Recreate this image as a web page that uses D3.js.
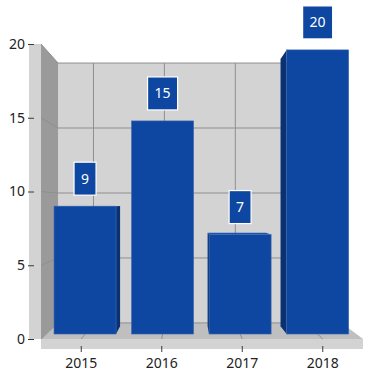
<!DOCTYPE html>
<html>
<head>
<meta charset="utf-8">
<script src="https://cdn.jsdelivr.net/npm/d3@7"></script>
<style>
  body { margin: 0; background: #fff; }
  text { font-family: "Segoe UI", "Noto Sans", "Open Sans", sans-serif; }
</style>
</head>
<body>
<script>
// data
let categories = ["2015", "2016", "2017", "2018"]
let values = [9, 15, 7, 20]
let yTicks = [0, 5, 10, 15, 20]

let width = 368
let height = 374

// front plane of the plot box
let plot = { left: 41, right: 363, top: 44, bottom: 339 }

// simple perspective: z = 0 front plane, z = 1 back wall
let vx = 184, vy = 204, shrink = 0.119
let proj = (x, y, z) => {
    let s = 1 - shrink * z
    return [vx + (x - vx) * s, vy + (y - vy) * s]
}
let poly = pts => pts.map(p => p.join(",")).join(" ")

let x = d3.scaleBand()
    .domain(categories)
    .range([plot.left, plot.right])

let y = d3.scaleLinear()
    .domain([0, 20])
    .range([plot.bottom, plot.top])

const svg = d3.select("body").append("svg")
    .attr("width", width)
    .attr("height", height)

// walls
svg.append("polygon")
    .attr("points", poly([proj(plot.left, plot.top, 1), proj(plot.right, plot.top, 1),
        proj(plot.right, plot.bottom, 1), proj(plot.left, plot.bottom, 1)]))
    .attr("fill", "#d3d3d3")

svg.append("rect")
    .attr("x", 29).attr("y", plot.top)
    .attr("width", plot.left - 29).attr("height", plot.bottom - plot.top)
    .attr("fill", "#d3d3d3")

svg.append("polygon")
    .attr("points", poly([proj(plot.left, plot.top, 0), proj(plot.left, plot.top, 1),
        proj(plot.left, plot.bottom, 1), proj(plot.left, plot.bottom, 0)]))
    .attr("fill", "#9a9a9a")

// floor
svg.append("polygon")
    .attr("points", poly([proj(plot.left, plot.bottom, 0), proj(plot.right, plot.bottom, 0),
        proj(plot.right, plot.bottom, 1), proj(plot.left, plot.bottom, 1)]))
    .attr("fill", "#bfbfbf")

svg.append("rect")
    .attr("x", plot.left).attr("y", plot.bottom)
    .attr("width", plot.right - plot.left).attr("height", 10)
    .attr("fill", "#d3d3d3")

// gridlines
const grid = svg.append("g")
    .attr("stroke", "#8f8f8f")
    .attr("stroke-width", 1)
    .attr("fill", "none")

yTicks.forEach(v => {
    grid.append("polyline")
        .attr("points", poly([proj(plot.left, y(v), 0), proj(plot.left, y(v), 1), proj(plot.right, y(v), 1)]))
})

categories.forEach(c => {
    let cx = x(c) + x.bandwidth() / 2
    grid.append("polyline")
        .attr("points", poly([proj(cx, plot.bottom, 0), proj(cx, plot.bottom, 1), proj(cx, plot.top, 1)]))
})

// bars
let z0 = 0.31, z1 = 0.79
let inset = x.bandwidth() * 0.1
let data = categories.map((c, i) => ({ name: c, value: values[i] }))

const bars = svg.append("g")

data.forEach(d => {
    let x0 = x(d.name) + inset
    let x1 = x(d.name) + x.bandwidth() - inset
    let yt = y(d.value), yb = y(0)
    let g = bars.append("g")
    if (x1 < vx) {
        g.append("polygon")
            .attr("points", poly([proj(x1, yt, z0), proj(x1, yt, z1), proj(x1, yb, z1), proj(x1, yb, z0)]))
            .attr("fill", "#0a3272")
    }
    if (x0 > vx) {
        g.append("polygon")
            .attr("points", poly([proj(x0, yt, z0), proj(x0, yt, z1), proj(x0, yb, z1), proj(x0, yb, z0)]))
            .attr("fill", "#0a3272")
    }
    if (yt > vy) {
        g.append("polygon")
            .attr("points", poly([proj(x0, yt, z0), proj(x1, yt, z0), proj(x1, yt, z1), proj(x0, yt, z1)]))
            .attr("fill", "#1a56b0")
    }
    let tl = proj(x0, yt, z0), br = proj(x1, yb, z0)
    g.append("rect")
        .attr("x", tl[0]).attr("y", tl[1])
        .attr("width", br[0] - tl[0]).attr("height", br[1] - tl[1])
        .attr("fill", "#0d47a1")
        .attr("stroke", "#3d66ad")
        .attr("stroke-width", 0.6)

    // data label
    let cx = (tl[0] + br[0]) / 2
    let lbl = svg.append("g")
    let t = lbl.append("text")
        .attr("x", cx)
        .attr("y", tl[1] - 11 - 16.5)
        .attr("dy", "0.35em")
        .attr("text-anchor", "middle")
        .attr("fill", "#fff")
        .attr("font-size", 14)
        .text(d.value)
    let w = t.node().getComputedTextLength() + 14
    lbl.insert("rect", "text")
        .attr("x", cx - w / 2)
        .attr("y", tl[1] - 11 - 33)
        .attr("width", w)
        .attr("height", 33)
        .attr("fill", "#0d47a1")
        .attr("stroke", "#fff")
        .attr("stroke-width", 1.2)
})

// axes
const gy = svg.append("g")
    .attr("transform", "translate(34,0)")
    .call(d3.axisLeft(y).tickValues(yTicks).tickSize(6).tickPadding(3))
    .call(g => g.select(".domain").remove())

const gx = svg.append("g")
    .attr("transform", "translate(0,346)")
    .call(d3.axisBottom(x).tickSize(6).tickPadding(6))
    .call(g => g.select(".domain").remove())

svg.selectAll(".tick line").attr("stroke", "#3a3a3a")
svg.selectAll(".tick text")
    .attr("font-size", 14)
    .attr("font-family", "'Segoe UI', 'Noto Sans', 'Open Sans', sans-serif")
    .attr("fill", "#222")
</script>
</body>
</html>
